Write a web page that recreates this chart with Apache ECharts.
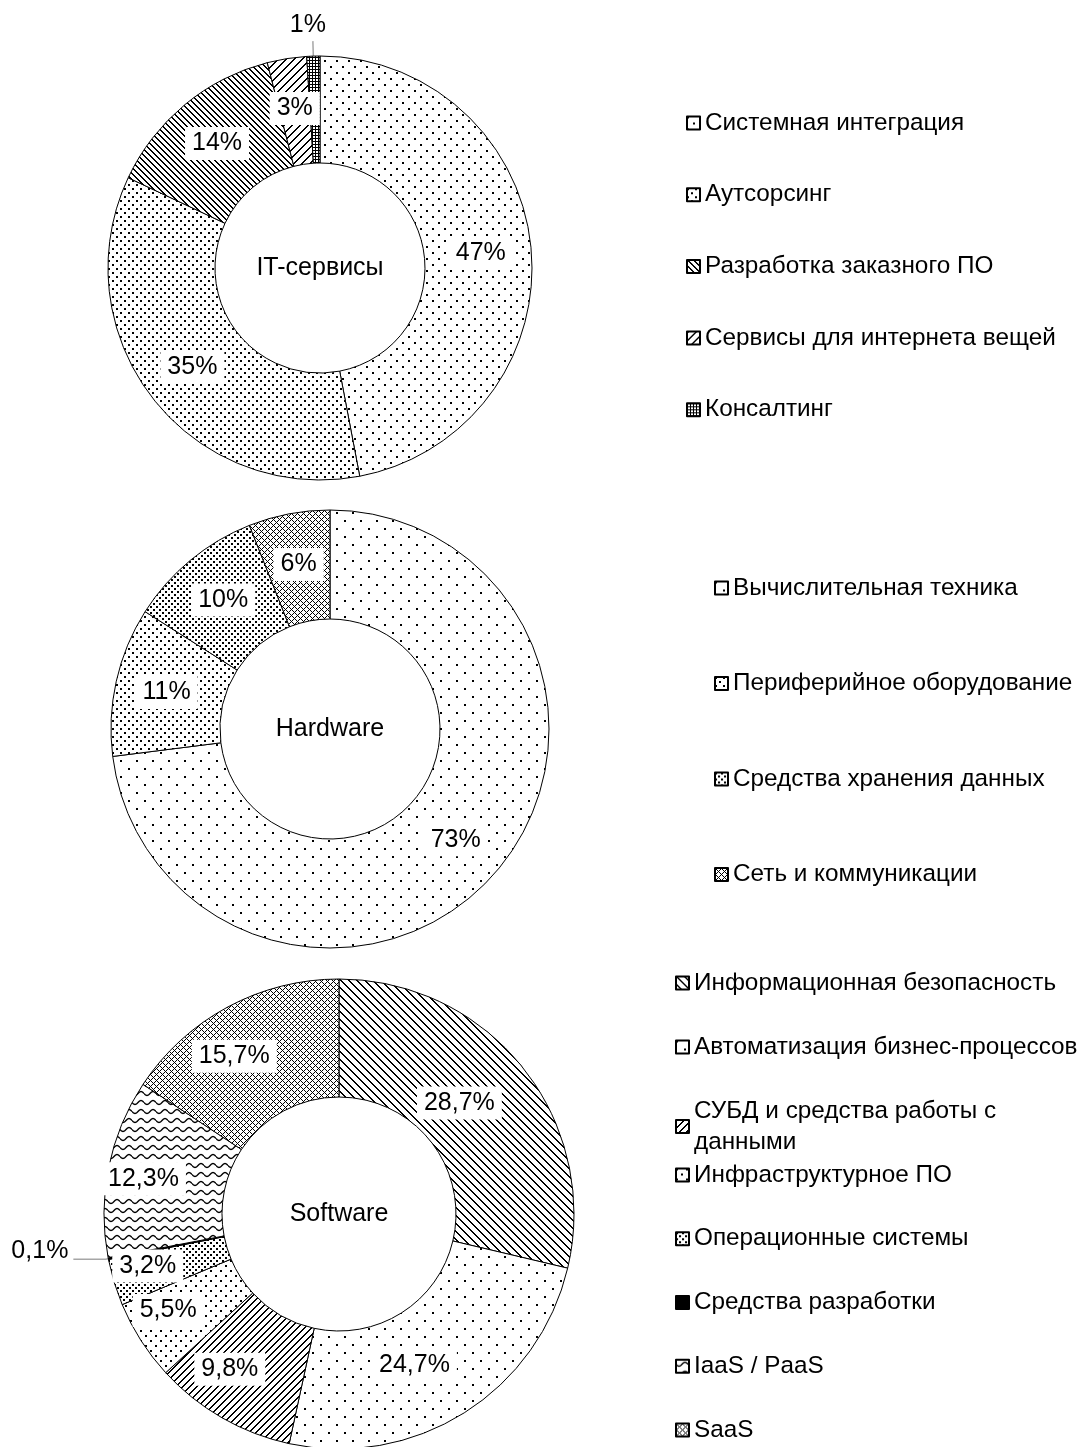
<!DOCTYPE html>
<html><head><meta charset="utf-8">
<script src="https://cdn.jsdelivr.net/npm/echarts@6/dist/echarts.min.js"></script>
<style>html,body{margin:0;padding:0;background:#fff}#c{width:1084px;height:1447px}</style>
</head><body><div id="c"></div>
<script>
// ---------------- DATA ----------------
const itNames = ['Системная интеграция', 'Аутсорсинг', 'Разработка заказного ПО', 'Сервисы для интернета вещей', 'Консалтинг'];
const itValues = [47, 35, 14, 3, 1];
const hwNames = ['Вычислительная техника', 'Периферийное оборудование', 'Средства хранения данных', 'Сеть и коммуникации'];
const hwValues = [73, 11, 10, 6];
const swNames = ['Информационная безопасность', 'Автоматизация бизнес-процессов', 'СУБД и средства работы с данными', 'Инфраструктурное ПО', 'Операционные системы', 'Средства разработки', 'IaaS / PaaS', 'SaaS'];
const swValues = [28.7, 24.7, 9.8, 5.5, 3.2, 0.1, 12.3, 15.7];
const centerTitles = ['IT-сервисы', 'Hardware', 'Software'];

// ---------------- STYLE ----------------
const FONT = '"Liberation Sans", Arial, sans-serif';
const FS = 25;
const LFS = 24.3;

function pixPattern(w, h, fn) {
  const c = document.createElement('canvas');
  c.width = w; c.height = h;
  const g = c.getContext('2d');
  const img = g.createImageData(w, h);
  for (let y = 0; y < h; y++) for (let x = 0; x < w; x++) {
    const on = fn(x, y);
    const i = (y * w + x) * 4;
    const v = on ? 0 : 255;
    img.data[i] = v; img.data[i + 1] = v; img.data[i + 2] = v; img.data[i + 3] = 255;
  }
  g.putImageData(img, 0, 0);
  return { image: c, repeat: 'repeat' };
}
function dots(T, d) {
  const h = T / 2;
  return pixPattern(T, T, (x, y) => (x < d && y < d) || (x >= h && x < h + d && y >= h && y < h + d));
}
function diagDown(T, w) { return pixPattern(T, T, (x, y) => ((x - y) % T + T) % T < w); }
function diagUp(T, w) { return pixPattern(T, T, (x, y) => (x + y) % T < w); }
function mesh(T) { return pixPattern(T, T, (x, y) => (x + y) % T === 0 || ((x - y) % T + T) % T === 0); }
function grid() { return pixPattern(3, 3, (x, y) => x === 0 || y === 0); }
function solid() { return '#000'; }
function waves() {
  const c = document.createElement('canvas');
  c.width = 12; c.height = 9;
  const g = c.getContext('2d');
  g.fillStyle = '#fff'; g.fillRect(0, 0, 12, 9);
  g.strokeStyle = '#000'; g.lineWidth = 1.4;
  g.beginPath();
  for (let x = 0; x <= 12; x += 0.5) {
    const y = 4.5 + 2 * Math.sin(2 * Math.PI * x / 12);
    if (x === 0) g.moveTo(x, y); else g.lineTo(x, y);
  }
  g.stroke();
  return { image: c, repeat: 'repeat' };
}

const itFills = [dots(12, 2), dots(8, 2), diagDown(6, 2), diagUp(8, 2), grid()];
const hwFills = [dots(16, 2), dots(8, 2), dots(6, 2), mesh(6)];
const swFills = [diagDown(8, 2), dots(16, 2), diagUp(7, 2), dots(10, 2), dots(6, 2), solid(), waves(), mesh(6)];

const layouts = [
  { center: [320, 268], radius: [105, 212] },
  { center: [330, 729], radius: [110, 219] },
  { center: [339, 1214], radius: [117, 235] }
];

const fmtInt = v => Math.round(v) + '%';
const fmtDec = v => v.toFixed(1).replace('.', ',') + '%';

const leaderStyle = { color: '#a6a6a6', width: 1.5 };

function buildSeries(k, names, values, fills, fmt, outsideIdx, outsideLine, labelLayout) {
  return {
    type: 'pie',
    center: layouts[k].center,
    radius: layouts[k].radius,
    startAngle: 90,
    clockwise: true,
    avoidLabelOverlap: false,
    silent: true,
    emphasis: { disabled: true },
    itemStyle: { borderColor: '#000', borderWidth: 1 },
    label: {
      show: true, position: 'inside', color: '#000', fontSize: FS, fontFamily: FONT,
      backgroundColor: '#fff', padding: [4, 7],
      formatter: p => fmt(p.value)
    },
    labelLine: { show: false },
    labelLayout: labelLayout,
    data: names.map((n, i) => {
      const d = { name: n, value: values[i], itemStyle: { color: fills[i] } };
      if (i === outsideIdx) {
        d.label = { position: 'outside', backgroundColor: 'transparent', padding: 0 };
        d.labelLine = Object.assign({ show: true, lineStyle: leaderStyle }, outsideLine);
      }
      return d;
    })
  };
}

const series = [
  buildSeries(0, itNames, itValues, itFills, fmtInt, 4, { length: 15, length2: 0 },
    p => p.dataIndex === 4 ? { align: 'center', verticalAlign: 'bottom', dy: -4 } : null),
  buildSeries(1, hwNames, hwValues, hwFills, fmtInt, -1, {}, null),
  buildSeries(2, swNames, swValues, swFills, fmtDec, 5, { length: 3, length2: 32 },
    p => p.dataIndex === 5 ? { dy: -8 } : { dx: -20 })
];

const legendBase = {
  orient: 'vertical', icon: 'rect', itemWidth: 13, itemHeight: 13, padding: 0,
  selectedMode: false,
  textStyle: { fontSize: LFS, fontFamily: FONT, color: '#000', lineHeight: 31 }
};
const legends = [
  Object.assign({}, legendBase, { data: itNames, left: 686, top: 107.5, itemGap: 40.7 }),
  Object.assign({}, legendBase, { data: hwNames, left: 714, top: 572.5, itemGap: 64.5 }),
  Object.assign({}, legendBase, { data: swNames.slice(0, 2), left: 675, top: 967.5, itemGap: 33 }),
  Object.assign({}, legendBase, {
    data: swNames.slice(2, 3), left: 675, top: 1095.5,
    formatter: n => n.replace(' данными', '\nданными')
  }),
  Object.assign({}, legendBase, { data: swNames.slice(3), left: 675, top: 1159.5, itemGap: 32.75 })
];

const graphics = centerTitles.map((t, k) => ({
  type: 'text', x: layouts[k].center[0], y: layouts[k].center[1], silent: true,
  style: { text: t, align: 'center', verticalAlign: 'middle', fontSize: FS, fontFamily: FONT, fill: '#000' }
}));

const chart = echarts.init(document.getElementById('c'), null, { renderer: 'canvas' });
chart.setOption({
  animation: false,
  backgroundColor: '#fff',
  legend: legends,
  graphic: graphics,
  series: series
});
</script>
</body></html>
